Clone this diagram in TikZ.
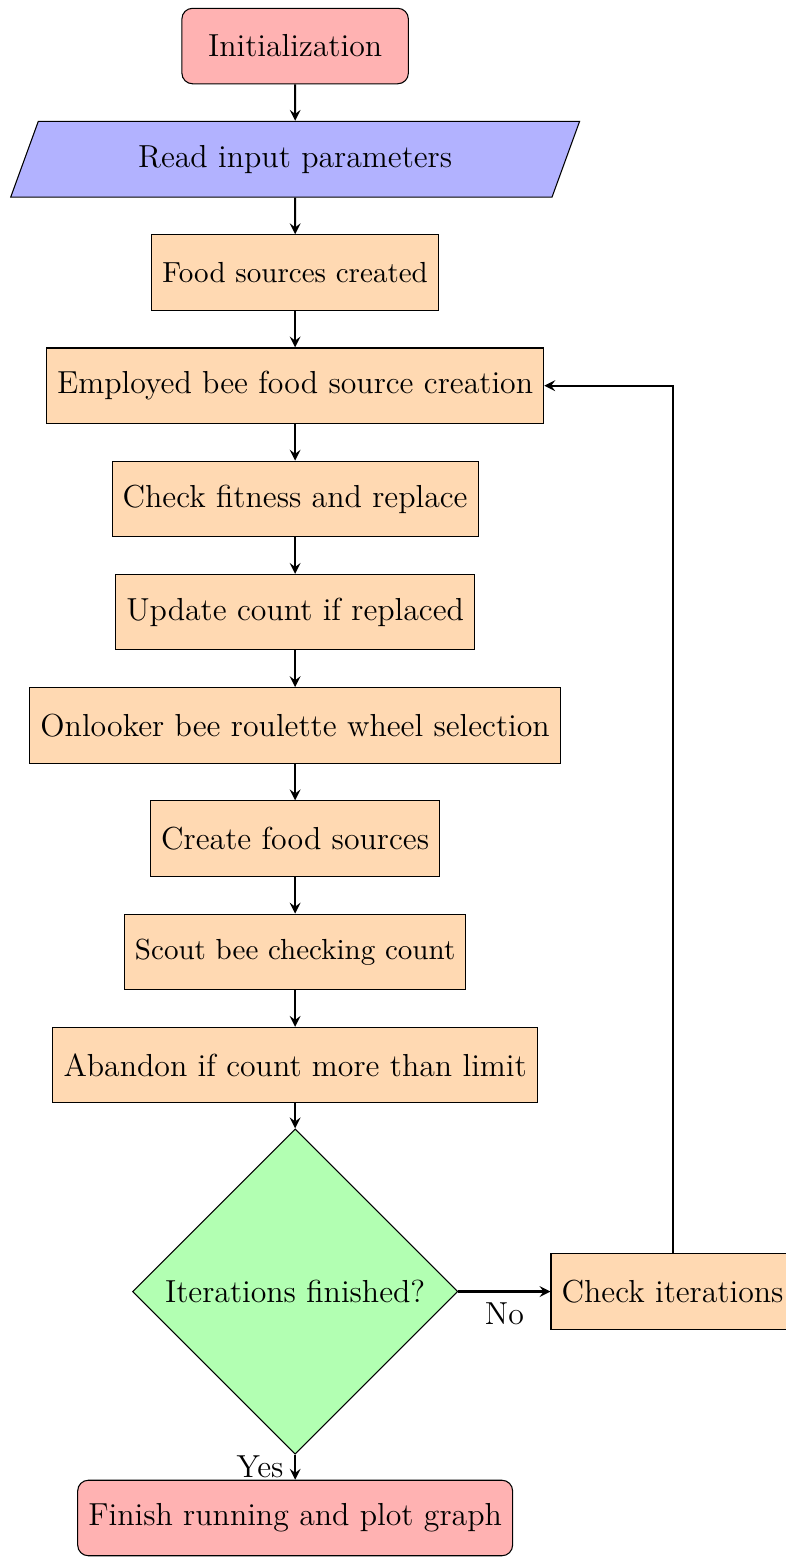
\documentclass[12pt,tikz,border=0pt]{standalone}
\usepackage{amsmath}
\usepackage{tikz}
\usetikzlibrary{shapes.geometric,arrows}

\begin{document}
\begin{tikzpicture}[
	termbox/.style={rectangle, rounded corners, minimum width=3cm, minimum height=1cm, text centered, draw=black, fill=red!30},
	iobox/.style={trapezium, trapezium left angle=70, trapezium right angle=110, minimum width=7.56cm, minimum height=1cm, text centered, draw=black, fill=blue!30},
	procbox/.style={rectangle, minimum width=3cm, minimum height=1cm, text centered, draw=black, fill=orange!30},
	decbox/.style={diamond, aspect=1, text centered, draw=black, fill=green!30},
	flowarrow/.style={thick,-stealth}]
					\useasboundingbox (-3.91, 0.61) rectangle (6.50, -20.03);
					
					\node[termbox] (init) at (0, 0) {Initialization};
					\node[iobox] (rip) at (0, -1.5) {Read input parameters};
					\node[procbox, font=\small] (fsc) at (0, -3) {Food sources created};
					\node[procbox] (emp) at (0, -4.5) {Employed bee food source creation};
					\node[procbox] (fit) at (0, -6) {Check fitness and replace};
					\node[procbox] (upd) at (0, -7.5) {Update count if replaced};
					\node[procbox] (onl) at (0, -9) {Onlooker bee roulette wheel selection};
					\node[procbox] (cfs) at (0, -10.5) {Create food sources};
					\node[procbox, font=\small] (sct) at (0, -12) {Scout bee checking count};
					\node[procbox] (abd) at (0, -13.5) {Abandon if count more than limit};
					\node[decbox] (dec) at (0, -16.5) {Iterations finished?};
					\node[procbox] (chk) at (5, -16.5) {Check iterations};
					\node[termbox] (fin) at (0, -19.5) {Finish running and plot graph};
					
					\draw[flowarrow] (init) -- (rip);
					\draw[flowarrow] (rip) -- (fsc);
					\draw[flowarrow] (fsc) -- (emp);
					\draw[flowarrow] (emp) -- (fit);
					\draw[flowarrow] (fit) -- (upd);
					\draw[flowarrow] (upd) -- (onl);
					\draw[flowarrow] (onl) -- (cfs);
					\draw[flowarrow] (cfs) -- (sct);
					\draw[flowarrow] (sct) -- (abd);
					\draw[flowarrow] (abd) -- (dec);
					
					\draw[flowarrow] (dec) -- node[below] {No} (chk);
					\draw[flowarrow] (dec) -- node[left] {Yes} (fin);
					\draw[flowarrow] (chk.north) |- (emp.east);
					
				\end{tikzpicture}
\end{document}
